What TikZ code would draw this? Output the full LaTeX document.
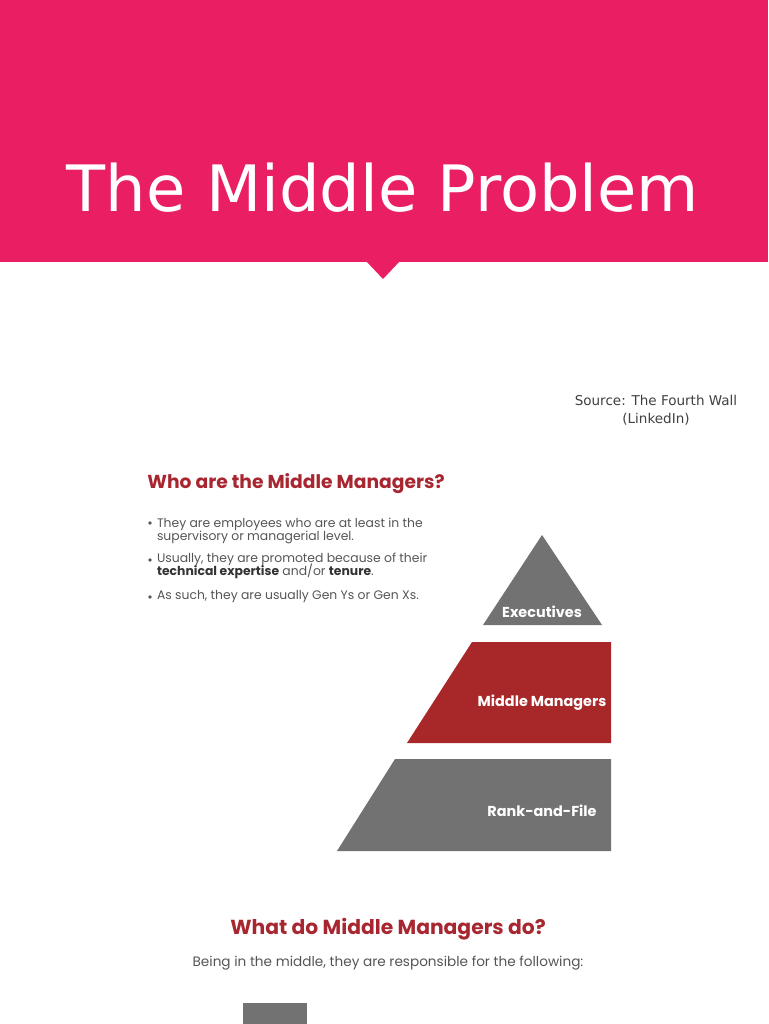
\documentclass[tikz,border=0pt]{standalone}
\usepackage{xcolor}
\usepackage{fontspec}
\setmainfont{DejaVu Sans}
\newfontfamily\slidefont{Poppins}
\usetikzlibrary{positioning}
\definecolor{bannerpink}{RGB}{233,30,99}
\definecolor{headred}{RGB}{168,38,48}
\definecolor{tierred}{RGB}{168,40,42}
\definecolor{tiergray}{RGB}{114,114,114}
\definecolor{bodygray}{RGB}{85,85,85}
\definecolor{sourcegray}{RGB}{64,64,64}
\newcommand\bulletfont{\slidefont\fontsize{7.05}{7.4}\selectfont\lineskiplimit=-10pt\relax\lineskip=0pt\relax}

\begin{document}
\begin{tikzpicture}[
    x=0.02cm, y=-0.02cm,
    every node/.style={inner sep=0pt, outer sep=0pt},
    slidehead/.style={font=\slidefont\bfseries\fontsize{10.65}{12}\selectfont, text=headred},
    bullettext/.style={font=\bulletfont, text=bodygray, align=left, anchor=west},
    tierlabel/.style={font=\slidefont\bfseries\fontsize{8.2}{9}\selectfont, text=white}
]
\useasboundingbox (0,0) rectangle (768,1024);

% title banner with notch
\fill[bannerpink] (0,0) rectangle (768,262);
\fill[bannerpink] (366,261) -- (400,261) -- (383,279) -- cycle;
\node (title) [anchor=base, text=white, font=\fontsize{36.4}{40}\selectfont] at (383,211) {The Middle Problem};

% source note
\node (source) [align=center, text=sourcegray, font=\fontsize{7.7}{10.2}\selectfont] at (656,410) {Source: The Fourth Wall\\(LinkedIn)};

% who are the middle managers
\node (whohead) [slidehead] at (296,484) {Who are the Middle Managers?};
\node (itemone) [bullettext] at (157,530.5) {They are employees who are at least in the\\supervisory or managerial level.};
\node (itemtwo) [bullettext] at (157,566) {Usually, they are promoted because of their\\\textcolor{black!80}{\bfseries technical expertise} and/or \textcolor{black!80}{\bfseries tenure}.};
\node (itemthree) [bullettext] at (157,597) {As such, they are usually Gen Ys or Gen Xs.};
\foreach \y in {523,560,597}
    \fill[bodygray] (150,\y) circle (1.8);

% pyramid
\fill[tiergray] (542,535) -- (602,625) -- (483,625) -- cycle;
\fill[tierred] (472,642) -- (611,642) -- (611,743) -- (407,743) -- cycle;
\fill[tiergray] (395,759) -- (611,759) -- (611,851) -- (337,851) -- cycle;
\node (executives) [tierlabel] at (542,612) {Executives};
\node (middle) [tierlabel] at (542,703) {Middle Managers};
\node (rankfile) [tierlabel] at (542,811) {Rank-and-File};

% what do middle managers do
\node (whathead) [slidehead, font=\slidefont\bfseries\fontsize{11.55}{13}\selectfont] at (388,929) {What do Middle Managers do?};
\node (whatsub) [font=\slidefont\fontsize{7.75}{9}\selectfont, text=bodygray, below=9pt of whathead] {Being in the middle, they are responsible for the following:};
\fill[tiergray] (243,1003) rectangle (307,1024);
\end{tikzpicture}
\end{document}
